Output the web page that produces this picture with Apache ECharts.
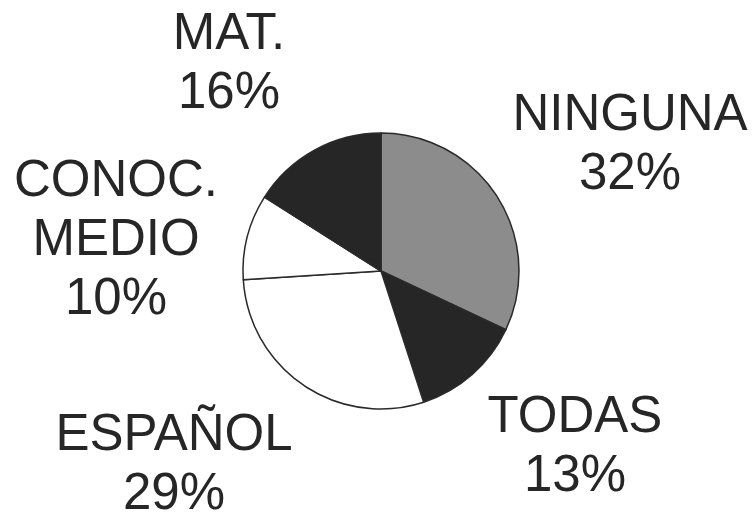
<!DOCTYPE html>
<html>
<head>
<meta charset="utf-8">
<script src="https://cdn.jsdelivr.net/npm/echarts@6/dist/echarts.min.js"></script>
<style>
  html, body { margin: 0; padding: 0; background: #ffffff; }
  #chart { width: 754px; height: 513px; }
</style>
</head>
<body>
<div id="chart"></div>
<script>
// Subjects, clockwise from twelve o'clock
const categories = ['NINGUNA', 'TODAS', 'ESPAÑOL', 'CONOC.\nMEDIO', 'MAT.'];
// Share of answers, in percent
const percentages = [32, 13, 29, 10, 16];
// Slice fills
const sliceColors = ['#8c8c8c', '#262626', '#ffffff', '#ffffff', '#262626'];
// Where each label block is centred
const labelCenters = [[630, 145], [575, 447], [174, 465], [116, 241], [229, 64]];

const chart = echarts.init(document.getElementById('chart'), null, { renderer: 'canvas' });

chart.setOption({
  backgroundColor: '#ffffff',
  animation: false,
  series: [{
    type: 'pie',
    center: [381, 271],
    radius: 138,
    startAngle: 90,
    clockwise: true,
    avoidLabelOverlap: false,
    data: categories.map((name, i) => ({
      name: name,
      value: percentages[i],
      itemStyle: { color: sliceColors[i] }
    })),
    itemStyle: { borderColor: '#2a2a2a', borderWidth: 1.5 },
    emphasis: { disabled: true },
    label: {
      show: true,
      position: 'outside',
      formatter: '{b}\n{c}%',
      fontFamily: '"Liberation Sans", Arial, sans-serif',
      fontSize: 51,
      lineHeight: 59,
      color: '#262626',
      align: 'center'
    },
    labelLine: { show: false },
    labelLayout: function (params) {
      const p = labelCenters[params.dataIndex];
      return { x: p[0], y: p[1], align: 'center', verticalAlign: 'middle' };
    }
  }]
});
</script>
</body>
</html>
